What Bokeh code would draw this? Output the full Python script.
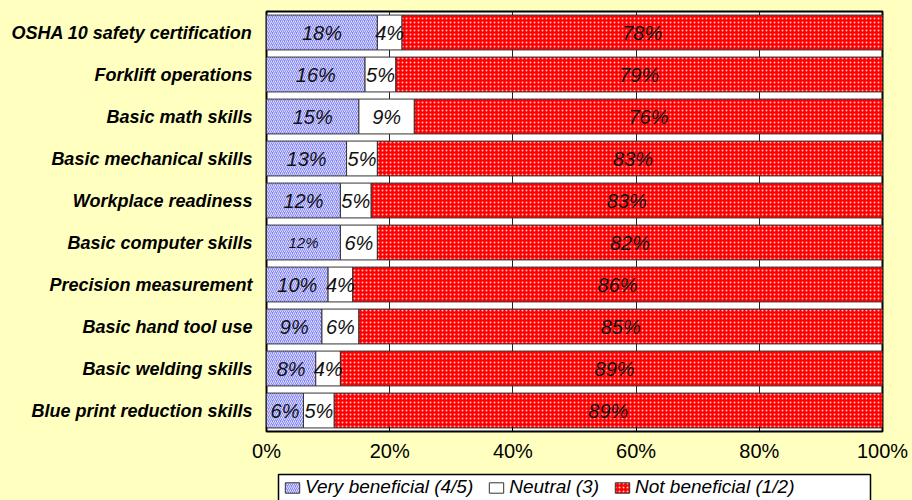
from bokeh.plotting import figure
from bokeh.layouts import column
from bokeh.models import ColumnDataSource, Range1d, FactorRange, FixedTicker, Legend, LegendItem
from bokeh.core.properties import value
from bokeh.embed import file_html
from bokeh.resources import INLINE

# Survey results: share of respondents rating each training topic
categories = [
    "OSHA 10 safety certification",
    "Forklift operations",
    "Basic math skills",
    "Basic mechanical skills",
    "Workplace readiness",
    "Basic computer skills",
    "Precision measurement",
    "Basic hand tool use",
    "Basic welding skills",
    "Blue print reduction skills",
]
very_beneficial = [18, 16, 15, 13, 12, 12, 10, 9, 8, 6]
neutral = [4, 5, 9, 5, 5, 6, 4, 6, 4, 5]
not_beneficial = [78, 79, 76, 83, 83, 82, 86, 85, 89, 89]

series_names = ["Very beneficial (4/5)", "Neutral (3)", "Not beneficial (1/2)"]
tick_values = [0, 20, 40, 60, 80, 100]

FONT = "Liberation Sans"
BG = "#FFFFC0"

# shared look of the three series
FILLS = ["#8585F5", "white", "#FF0000"]
HATCHES = ["right_diagonal_line", "blank", "dot"]
HATCH_KW = dict(hatch_color="white", hatch_alpha=0.75, hatch_scale=4, hatch_weight=1)

source = ColumnDataSource(dict(
    cat=categories,
    very=very_beneficial,
    neutral=neutral,
    notb=not_beneficial,
))

p = figure(
    width=912, height=466,
    y_range=FactorRange(*reversed(categories)),
    x_range=Range1d(0, 100),
    output_backend="svg", toolbar_location=None,
    min_border_left=266, min_border_right=30,
    min_border_top=11, min_border_bottom=35,
)
p.border_fill_color = BG
p.background_fill_color = "white"
p.outline_line_color = "black"
p.outline_line_width = 2

p.hbar_stack(
    ["very", "neutral", "notb"], y="cat", height=0.83, source=source,
    fill_color=FILLS, line_color="#333333", line_width=1,
    hatch_pattern=HATCHES, **HATCH_KW,
)

# value labels centred on each segment
lx, ly, lt, ls = [], [], [], []
for cat, a, b, c in zip(categories, very_beneficial, neutral, not_beneficial):
    for start, v in ((0, a), (a, b), (a + b, c)):
        lx.append(start + v / 2)
        ly.append(cat)
        lt.append(f"{v}%")
        ls.append("20px")
ls[categories.index("Basic computer skills") * 3] = "15px"

p.text(x="x", y="y", text="t", source=ColumnDataSource(dict(x=lx, y=ly, t=lt, s=ls)),
       text_font=value(FONT), text_font_style="italic", text_font_size="s",
       text_align="center", text_baseline="middle", text_color="#111111")

# x axis
p.xaxis.ticker = FixedTicker(ticks=tick_values)
p.xaxis.major_label_overrides = {t: f"{t}%" for t in tick_values}
p.xaxis.major_label_text_font = FONT
p.xaxis.major_label_text_font_size = "20px"
p.xaxis.major_label_text_color = "black"
p.xaxis.major_label_standoff = 8
p.xaxis.axis_line_color = None
p.xaxis.major_tick_in = 5
p.xaxis.major_tick_out = 0
p.xaxis.major_tick_line_color = "black"
p.xaxis.minor_tick_line_color = None

# y axis
p.yaxis.major_label_text_font = FONT
p.yaxis.major_label_text_font_style = "bold italic"
p.yaxis.major_label_text_font_size = "18px"
p.yaxis.major_label_text_color = "black"
p.yaxis.major_label_standoff = 8
p.yaxis.axis_line_color = None
p.yaxis.major_tick_line_color = None

p.ygrid.grid_line_color = None
p.xgrid.ticker = FixedTicker(ticks=tick_values)
p.xgrid.grid_line_color = "#222222"
p.xgrid.grid_line_width = 1

# legend strip underneath the chart; its frame lines up with the chart frame,
# so the ranges are set to page pixels
leg = figure(
    width=912, height=34, x_range=Range1d(266, 882), y_range=Range1d(0, 34),
    output_backend="svg", toolbar_location=None, min_border=0,
    min_border_left=266, min_border_right=30,
)
leg.axis.visible = False
leg.grid.grid_line_color = None
leg.outline_line_color = None
leg.background_fill_color = BG
leg.border_fill_color = BG

leg.quad(left=[278], right=[870], bottom=[-5], top=[26],
         fill_color="white", line_color="black", line_width=1.5)

# off-range sample bars that only supply the legend swatches
swatches = [
    leg.hbar(y=[-100], right=[300], left=[290], height=1, fill_color=f,
             line_color="#333333", hatch_pattern=h, **HATCH_KW)
    for f, h in zip(FILLS, HATCHES)
]
legend = Legend(
    items=[LegendItem(label=n, renderers=[r]) for n, r in zip(series_names, swatches)],
    orientation="horizontal", location=(17, 2),
    label_text_font=FONT, label_text_font_style="italic", label_text_font_size="19px",
    label_text_color="black",
    label_standoff=4, glyph_width=18, glyph_height=13, spacing=14,
    padding=0, margin=0, border_line_color=None, background_fill_alpha=0,
)
leg.add_layout(legend, "center")

page = column(p, leg, spacing=0, styles={"background-color": BG})
open("out.html", "w").write(file_html(page, INLINE))
